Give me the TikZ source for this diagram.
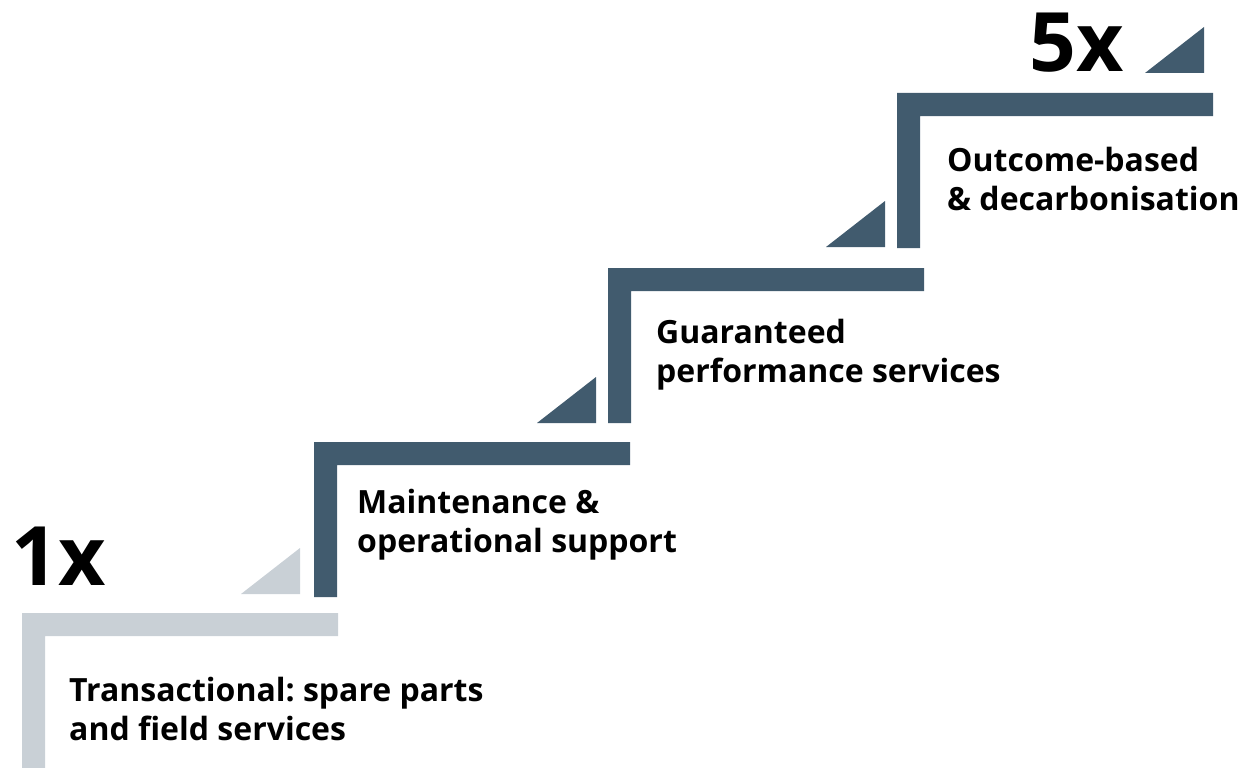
\documentclass[tikz,border=0pt]{standalone}
\usepackage{fontspec}
\setmainfont{Open Sans}
\usetikzlibrary{positioning}

\definecolor{stepdark}{RGB}{65,91,110}
\definecolor{steplight}{RGB}{201,208,214}

\begin{document}
\frenchspacing
\begin{tikzpicture}[x=1pt,y=-1pt,
	steplabel/.style={anchor=base west,inner sep=0pt,align=left,font=\bfseries\fontsize{32}{39}\selectfont},
	factor/.style={anchor=base west,inner sep=0pt,font=\bfseries\fontsize{82}{82}\selectfont}]

%Dimensions des marches
\def \epaisseur{23}
\def \palier{316}
\def \contremarche{155}
\def \largtri{59}
\def \hauttri{46}

\useasboundingbox (0,0) rectangle (1243,768);

%Facteurs
\node[factor] (fois1) at (11,585) {1x};
\node[factor] (fois5) at (1029,72) {5x};

%Marche 1
\begin{scope}[shift={(22,613)}]
	\fill[steplight] (0,0) -- ++(\palier,0) -- ++(0,\epaisseur) -- ++(-\palier+\epaisseur,0) -- ++(0,\contremarche-\epaisseur) -- ++(-\epaisseur,0) -- cycle;
	\fill[steplight] (278,-19) -- ++(0,-\hauttri) -- ++(-\largtri,\hauttri) -- cycle;
	\node[steplabel] (marche1) at (47,127) {Transactional: spare parts\\and field services};
\end{scope}

%Marche 2
\begin{scope}[shift={(314,442)}]
	\fill[stepdark] (0,0) -- ++(\palier,0) -- ++(0,\epaisseur) -- ++(-\palier+\epaisseur,0) -- ++(0,\contremarche-\epaisseur) -- ++(-\epaisseur,0) -- cycle;
	\fill[stepdark] (282,-19) -- ++(0,-\hauttri) -- ++(-\largtri,\hauttri) -- cycle;
	\node[steplabel] (marche2) at (43,110) {Maintenance \&\\operational support};
\end{scope}

%Marche 3
\begin{scope}[shift={(608,268)}]
	\fill[stepdark] (0,0) -- ++(\palier,0) -- ++(0,\epaisseur) -- ++(-\palier+\epaisseur,0) -- ++(0,\contremarche-\epaisseur) -- ++(-\epaisseur,0) -- cycle;
	\fill[stepdark] (277,-21) -- ++(0,-\hauttri) -- ++(-\largtri,\hauttri) -- cycle;
	\node[steplabel] (marche3) at (48,114) {Guaranteed\\performance services};
\end{scope}

%Marche 4
\begin{scope}[shift={(897,93)}]
	\fill[stepdark] (0,0) -- ++(\palier,0) -- ++(0,\epaisseur) -- ++(-\palier+\epaisseur,0) -- ++(0,\contremarche-\epaisseur) -- ++(-\epaisseur,0) -- cycle;
	\fill[stepdark] (307,-20) -- ++(0,-\hauttri) -- ++(-\largtri,\hauttri) -- cycle;
	\node[steplabel] (marche4) at (50,117) {Outcome-based\\\& decarbonisation};
\end{scope}

\end{tikzpicture}
\end{document}
